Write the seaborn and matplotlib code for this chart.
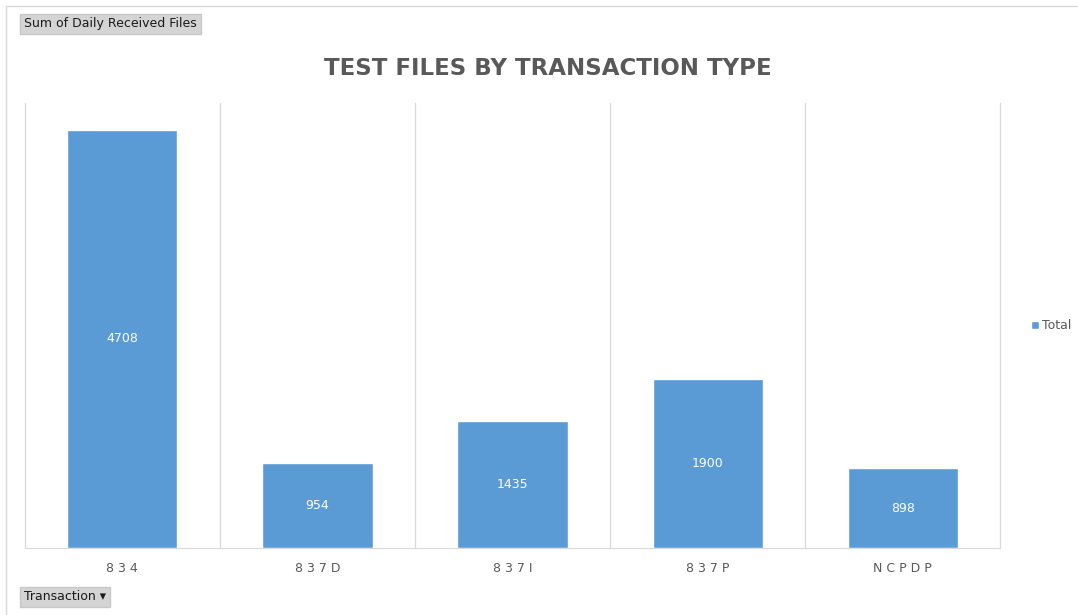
import pandas as pd
import matplotlib.pyplot as plt
import seaborn as sns
from matplotlib.patches import Rectangle

transactions = ["834", "837D", "837I", "837P", "NCPDP"]
totals = [4708, 954, 1435, 1900, 898]

df = pd.DataFrame({"Transaction": transactions, "Total": totals})

sns.set_style("white")
fig = plt.figure(figsize=(10.78, 6.15), dpi=100)
ax = fig.add_axes([0.023, 0.109, 0.905, 0.7235])

sns.barplot(data=df, x="Transaction", y="Total", color="#5B9BD5", width=0.565,
            saturation=1, ax=ax, label="Total")

ax.set_ylim(0, 5010)
ax.set_xlim(-0.5, len(transactions) - 0.5)
ax.set_yticks([])
ax.set_xlabel("")
ax.set_ylabel("")
ax.set_xticks(range(len(transactions)))
ax.set_xticklabels([" ".join(t) for t in transactions], fontsize=9, color="#595959")
ax.tick_params(axis="x", length=0, pad=10)

# category separators
for b in [i - 0.5 for i in range(len(transactions) + 1)]:
    ax.axvline(b, color="#D9D9D9", lw=0.9, zorder=0, clip_on=False)

for s in ["top", "left", "right"]:
    ax.spines[s].set_visible(False)
ax.spines["bottom"].set_color("#D9D9D9")

for i, v in enumerate(totals):
    ax.text(i, v / 2, str(v), ha="center", va="center", color="white", fontsize=9)

ax.legend(loc="center left", bbox_to_anchor=(1.02, 0.5), frameon=False,
          handlelength=0.6, handleheight=0.6, handletextpad=0.3,
          fontsize=9, labelcolor="#595959")

fig.text(0.508, 0.889, "TEST FILES BY TRANSACTION TYPE", ha="center", va="center",
         fontsize=16.5, fontweight="bold", color="#595959")

# frame of the pivot chart
fig.patches.append(Rectangle((6 / 1078, -0.1), 1.1, (612 - 3) / 615 + 0.1,
                             transform=fig.transFigure, fill=False,
                             edgecolor="#D9D9D9", lw=1))

# field buttons
btn = dict(boxstyle="square,pad=0.3", facecolor="#D4D4D4", edgecolor="#C8C8C8")
fig.text(24 / 1078, 1 - 24 / 615, "Sum of Daily Received Files", ha="left",
         va="center", fontsize=9, color="#1a1a1a", bbox=btn)
fig.text(24 / 1078, 1 - 597 / 615, "Transaction \u25be", ha="left",
         va="center", fontsize=9, color="#1a1a1a", bbox=btn)

fig.savefig("out.png", dpi=100)
